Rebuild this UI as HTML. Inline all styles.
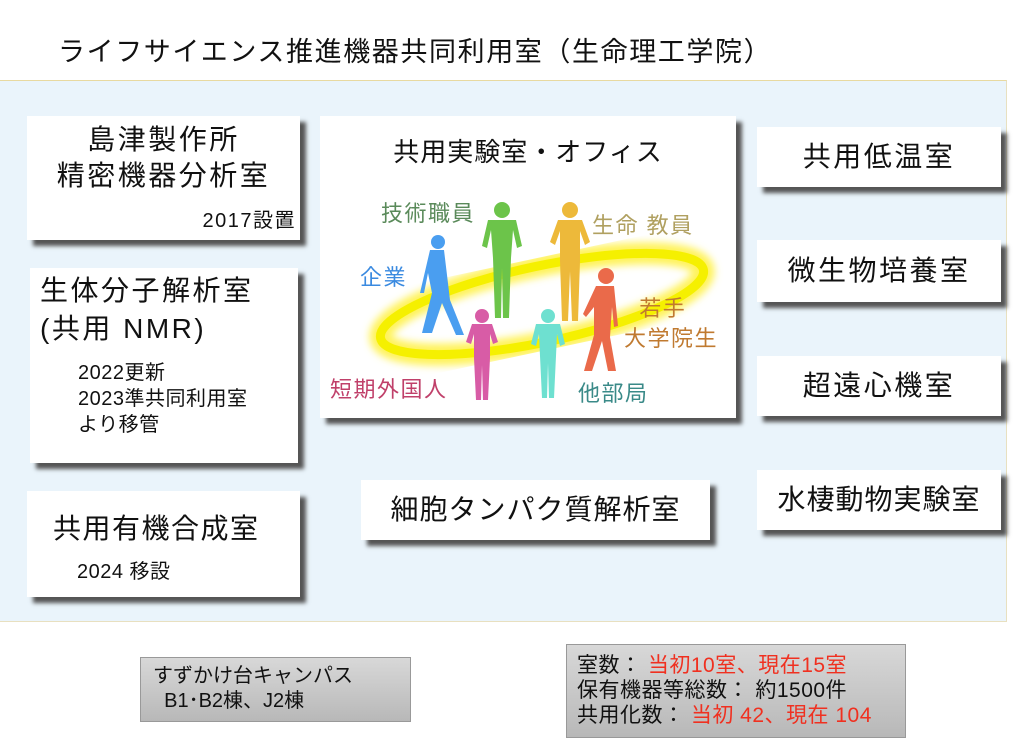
<!DOCTYPE html>
<html><head><meta charset="utf-8"><style>
*{margin:0;padding:0;box-sizing:border-box}
body{width:1024px;height:752px;background:#fff;position:relative;overflow:hidden;font-family:"Liberation Sans","Noto Sans CJK JP",sans-serif;color:#111}
.a{position:absolute}
.panel{left:0;top:80px;width:1007px;height:542px;background:#eaf4fb;border-top:1px solid #e8d9a0;border-right:1px solid #e8e0c0;border-bottom:1px solid #e8e0c0}
.box{position:absolute;background:#fff;box-shadow:6px 6px 4px #555}
.c{text-align:center}
.L{font-size:28px;letter-spacing:2.5px}
.S{font-size:20px;letter-spacing:1.5px}
.F{font-size:22px;letter-spacing:1.5px}
.g{background:linear-gradient(#d8d8d8,#b8b8b8);border:1px solid #999;font-size:20px;letter-spacing:1px;line-height:25px}
</style></head><body>
<div class="a" style="left:58px;top:30px;font-size:27px;letter-spacing:1.6px">ライフサイエンス推進機器共同利用室（生命理工学院）</div>
<div class="a panel"></div>

<div class="box" style="left:27px;top:116px;width:273px;height:124px">
 <div class="c L" style="line-height:36px;margin-top:6px">島津製作所<br>精密機器分析室</div>
 <div class="S" style="position:absolute;right:4px;top:88px">2017設置</div>
</div>
<div class="box" style="left:30px;top:268px;width:268px;height:195px">
 <div class="L" style="line-height:38px;margin:4px 0 0 10px">生体分子解析室<br>(共用 NMR)</div>
 <div class="S" style="line-height:26px;margin:12px 0 0 48px;letter-spacing:0.5px">2022更新<br>2023準共同利用室<br>より移管</div>
</div>
<div class="box" style="left:27px;top:491px;width:273px;height:106px">
 <div class="L" style="margin:16px 0 0 26px;letter-spacing:1.5px">共用有機合成室</div>
 <div class="S" style="margin:8px 0 0 50px;letter-spacing:0.5px">2024 移設</div>
</div>

<div class="box" style="left:320px;top:116px;width:416px;height:302px">
 <div class="c" style="font-size:26px;letter-spacing:1px;margin-top:16px">共用実験室・オフィス</div>
 <svg class="a" style="left:0;top:0" width="416" height="302">
  <defs><filter id="bl"><feGaussianBlur stdDeviation="4"/></filter></defs>
  <ellipse cx="222" cy="188" rx="165" ry="38" transform="rotate(-12 222 188)" fill="none" stroke="#fff35a" stroke-width="22" filter="url(#bl)"/>
  <ellipse cx="222" cy="188" rx="165" ry="38" transform="rotate(-12 222 188)" fill="none" stroke="#f5f000" stroke-width="9"/>
  <g fill="#4a9ef0"><circle cx="118" cy="126" r="7"/><path d="M110 134 h14 l6 50 l14 35 h-8 l-14 -32 l-10 30 h-10 l10 -40 l-4 -20 l-4 20 h-4z"/></g>
  <g fill="#6cc44a"><circle cx="182" cy="94" r="8"/><path d="M168 104 h28 l6 26 l-5 2 l-4 -18 l-2 28 l-2 60 h-6 l-1 -50 l-1 50 h-6 l-2 -60 l-2 -28 l-4 18 l-5 -2z"/></g>
  <g fill="#edb93a"><circle cx="250" cy="94" r="8"/><path d="M238 104 h24 l8 22 l-5 3 l-5 -14 l0 30 l-2 60 h-6 l-2 -50 l-2 50 h-6 l-2 -60 l0 -30 l-5 14 l-5 -3z"/></g>
  <g fill="#ea6a4a"><circle cx="286" cy="160" r="8"/><path d="M276 170 h18 l4 40 l-4 1 l-2 -20 l-2 30 l6 34 h-8 l-6 -30 l-10 30 h-8 l10 -36 l0 -28 l-8 10 l-3 -3z"/></g>
  <g fill="#d85ca6"><circle cx="162" cy="200" r="7"/><path d="M152 208 h20 l6 18 l-5 2 l-3 -10 l0 24 l-2 42 h-5 l-1 -35 l-1 35 h-5 l-2 -42 l0 -24 l-3 10 l-5 -2z"/></g>
  <g fill="#6ee0d0"><circle cx="228" cy="200" r="7"/><path d="M216 208 h24 l5 20 l-5 2 l-3 -12 l-1 22 l-2 42 h-5 l-1 -35 l-1 35 h-5 l-2 -42 l-1 -22 l-3 12 l-5 -2z"/></g>
 </svg>
 <div class="a F" style="left:61px;top:80px;color:#5a8a5a">技術職員</div>
 <div class="a F" style="left:272px;top:92px;color:#b0a060">生命 教員</div>
 <div class="a F" style="left:40px;top:144px;color:#3a8ae0">企業</div>
 <div class="a F" style="left:304px;top:178px;color:#c07a30;line-height:30px">&nbsp;&nbsp;若手<br>大学院生</div>
 <div class="a F" style="left:10px;top:256px;color:#c0406a">短期外国人</div>
 <div class="a F" style="left:258px;top:260px;color:#3a8a88">他部局</div>
</div>

<div class="box c L" style="left:361px;top:480px;width:349px;height:60px;line-height:60px;letter-spacing:1px">細胞タンパク質解析室</div>
<div class="box c L" style="left:757px;top:127px;width:244px;height:60px;line-height:60px">共用低温室</div>
<div class="box c L" style="left:757px;top:240px;width:244px;height:62px;line-height:62px">微生物培養室</div>
<div class="box c L" style="left:757px;top:356px;width:244px;height:60px;line-height:60px">超遠心機室</div>
<div class="box c L" style="left:757px;top:470px;width:244px;height:60px;line-height:60px;letter-spacing:1px">水棲動物実験室</div>

<div class="a g" style="left:140px;top:657px;width:271px;height:65px;padding:6px 0 0 12px;letter-spacing:0">すずかけ台キャンパス<br>&nbsp;&nbsp;B1･B2棟、J2棟</div>
<div class="a g" style="left:566px;top:644px;width:340px;height:94px;padding:8px 0 0 10px;font-size:21px;letter-spacing:0.5px">室数： <span style="color:#f03020">当初10室、現在15室</span><br>保有機器等総数： 約1500件<br>共用化数： <span style="color:#f03020">当初 42、現在 104</span></div>
</body></html>
